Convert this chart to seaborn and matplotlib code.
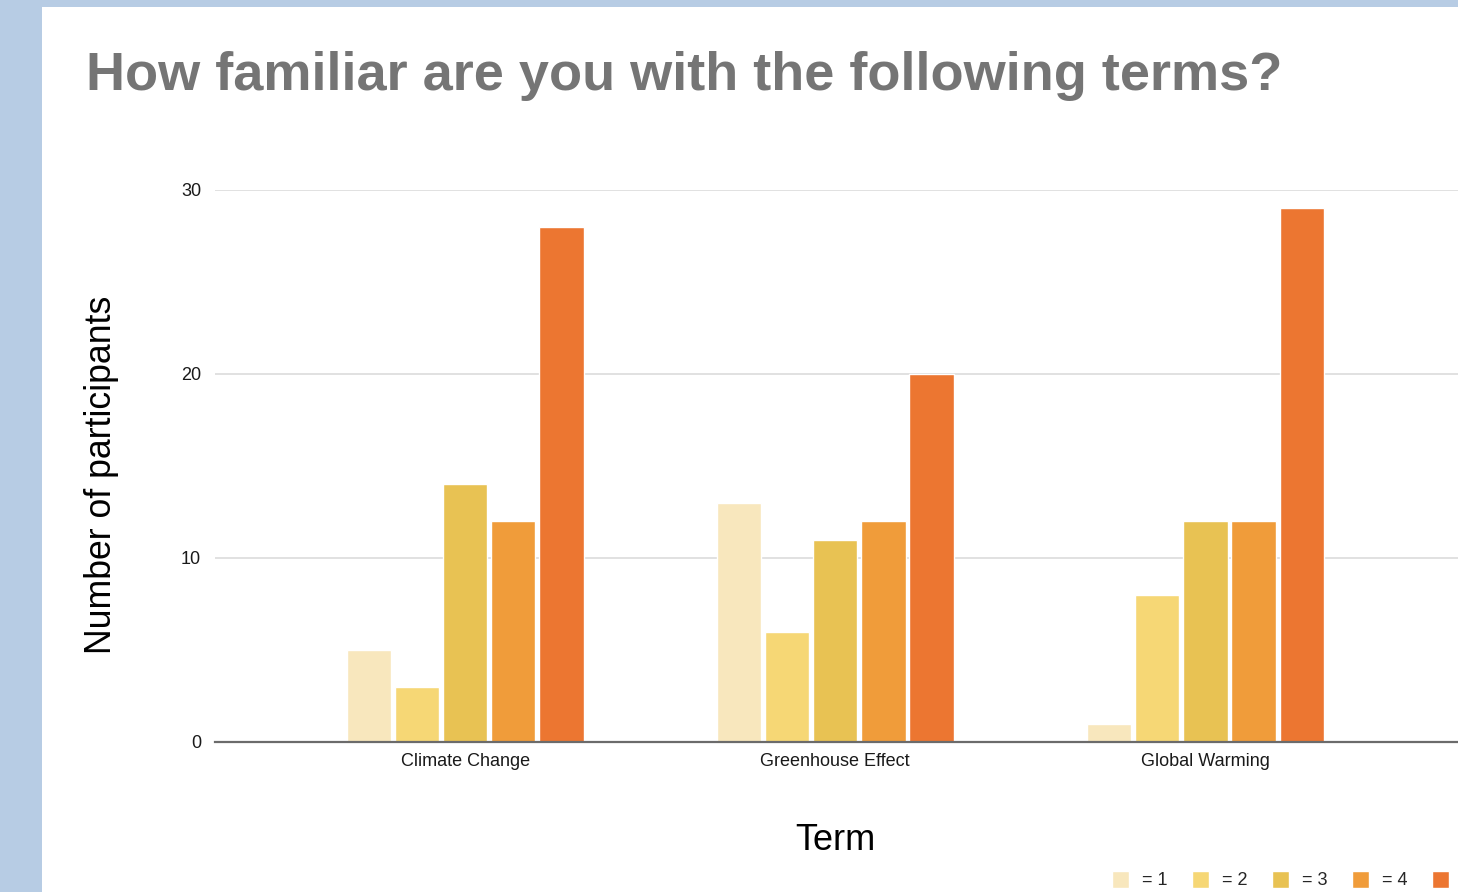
import matplotlib
matplotlib.use("Agg")
import matplotlib.pyplot as plt
from matplotlib.patches import Rectangle
import seaborn as sns
import pandas as pd

# Survey responses: count of participants per familiarity rating
terms = ["Climate Change", "Greenhouse Effect", "Global Warming"]
ratings = ["= 1", "= 2", "= 3", "= 4", "= 5"]
counts_rating_1 = [5, 13, 1]
counts_rating_2 = [3, 6, 8]
counts_rating_3 = [14, 11, 12]
counts_rating_4 = [12, 12, 12]
counts_rating_5 = [28, 20, 29]
y_ticks = [0, 10, 20, 30]

palette = ["#f8e7bd", "#f6d775", "#e8c253", "#f09c3a", "#ec7631"]

rows = []
for rating, counts in zip(ratings, [counts_rating_1, counts_rating_2, counts_rating_3,
                                    counts_rating_4, counts_rating_5]):
    for term, c in zip(terms, counts):
        rows.append({"Term": term, "Rating": rating, "Count": c})
df = pd.DataFrame(rows)

sns.set_theme(style="white")
plt.rcParams["font.family"] = ["Liberation Sans", "DejaVu Sans"]

W, H = 1458, 892
fig = plt.figure(figsize=(W / 100, H / 100), dpi=100)
fig.patch.set_facecolor("#b7cce4")
# white sheet behind the chart, leaving a blue band on the left and top
fig.patches.append(Rectangle((42 / W, 0), 1, (H - 7) / H, transform=fig.transFigure,
                             facecolor="white", edgecolor="none", zorder=-10))

ax_left, ax_bottom = 215 / W, (H - 742) / H
ax_width, ax_height = 1268 / W, (742 - 190) / H
ax = fig.add_axes([ax_left, ax_bottom, ax_width, ax_height])
ax.set_facecolor("none")

sns.barplot(data=df, x="Term", y="Count", hue="Rating", hue_order=ratings,
            order=terms, palette=palette, width=0.65, gap=0.08,
            saturation=1, errorbar=None, ax=ax, zorder=3)

ax.set_xlim(-0.676, 2.75)
ax.set_ylim(0, 30)
ax.set_yticks(y_ticks)
ax.yaxis.grid(True, color="#d9d9d9", linewidth=1.1, zorder=0)
ax.xaxis.grid(False)
ax.set_axisbelow(True)
for s in ["top", "right", "left"]:
    ax.spines[s].set_visible(False)
ax.spines["bottom"].set_color("#6b6b6b")
ax.spines["bottom"].set_linewidth(1.6)
ax.spines["bottom"].set_zorder(4)
ax.tick_params(axis="both", length=0, labelsize=13, colors="#1a1a1a")
ax.tick_params(axis="y", pad=10)
ax.tick_params(axis="x", pad=8)
ax.set_xlabel("")
ax.set_ylabel("")

sns.move_legend(ax, loc="center left", bbox_to_anchor=(1105 / W, (H - 880) / H),
                bbox_transform=fig.transFigure, ncol=5, frameon=False, title=None,
                fontsize=13, handlelength=0.95, handleheight=1.1,
                handletextpad=0.7, columnspacing=1.37, borderaxespad=0)

fig.text(86 / W, (H - 76) / H, "How familiar are you with the following terms?",
         fontsize=39, fontweight="bold", color="#757575", ha="left", va="center")
fig.text(102 / W, (H - 475) / H, "Number of participants", fontsize=25.7,
         rotation=90, ha="center", va="center", color="black")
fig.text(835 / W, (H - 840) / H, "Term", fontsize=26, ha="center", va="center",
         color="black")

fig.savefig("out.png", dpi=100)
